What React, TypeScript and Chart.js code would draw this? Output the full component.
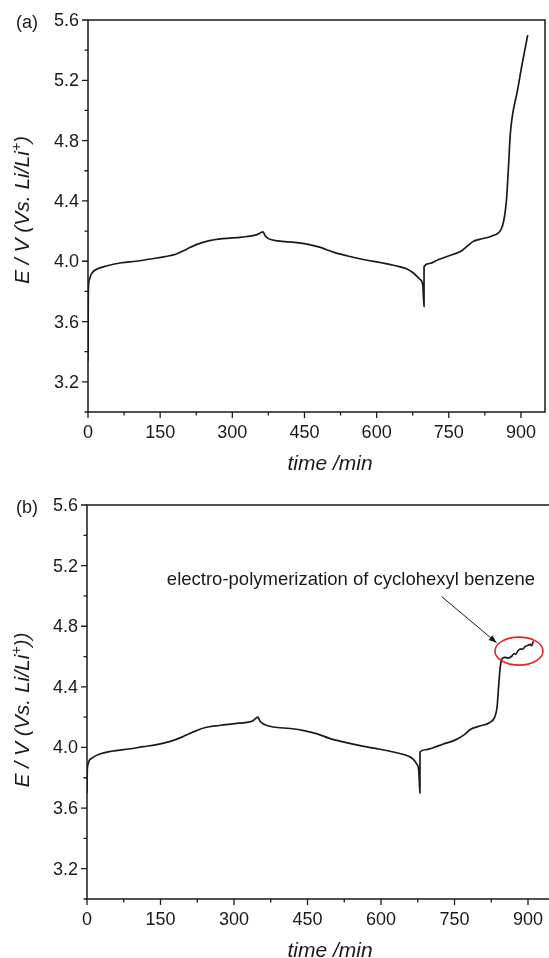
import { useEffect, useRef } from "react";
import { Chart, registerables } from "chart.js";

Chart.register(...registerables);

// ---------- data ----------
const timeA = [0, 0.5, 1, 3, 8, 20, 40, 70, 100, 130, 160, 185, 205, 225, 250, 280, 320, 350, 364, 368, 375, 395, 430, 460, 485, 510, 540, 575, 610, 640, 662, 675, 690, 696, 698.5, 698.6, 710, 728, 745, 777, 800, 814, 842, 860, 866, 870, 874, 878, 883, 892, 902, 914];
const voltA = [3.34, 3.75, 3.83, 3.88, 3.92, 3.95, 3.97, 3.99, 4.0, 4.015, 4.03, 4.05, 4.08, 4.11, 4.135, 4.15, 4.16, 4.175, 4.195, 4.17, 4.15, 4.135, 4.125, 4.11, 4.09, 4.06, 4.035, 4.01, 3.99, 3.97, 3.95, 3.925, 3.88, 3.84, 3.70, 3.965, 3.985, 4.01, 4.03, 4.07, 4.13, 4.145, 4.17, 4.22, 4.3, 4.41, 4.62, 4.85, 4.98, 5.12, 5.3, 5.5];

const timeB = [0, 0.5, 1.5, 4, 10, 25, 50, 85, 115, 145, 170, 195, 215, 240, 270, 310, 338, 349, 353, 360, 380, 415, 445, 470, 495, 525, 560, 595, 625, 650, 665, 673, 677, 679.5, 679.6, 690, 708, 725, 752, 768, 783, 800, 822, 832, 837, 840, 843, 846, 852, 860, 866, 872, 875, 880, 886, 889, 894, 900, 904, 907, 911];
const voltB = [3.70, 3.84, 3.88, 3.91, 3.93, 3.955, 3.975, 3.99, 4.005, 4.02, 4.04, 4.07, 4.1, 4.13, 4.145, 4.16, 4.175, 4.2, 4.175, 4.155, 4.135, 4.125, 4.11, 4.09, 4.06, 4.035, 4.01, 3.99, 3.97, 3.95, 3.925, 3.89, 3.85, 3.70, 3.97, 3.985, 4.0, 4.02, 4.05, 4.08, 4.12, 4.14, 4.165, 4.2, 4.27, 4.4, 4.52, 4.58, 4.595, 4.59, 4.6, 4.62, 4.615, 4.64, 4.65, 4.648, 4.665, 4.675, 4.68, 4.672, 4.7];

const xMajorTicks = [0, 150, 300, 450, 600, 750, 900];
const xMinorTicks = [75, 225, 375, 525, 675, 825];
const yMajorTicks = [3.2, 3.6, 4.0, 4.4, 4.8, 5.2, 5.6];
const yMinorTicks = [3.0, 3.4, 3.8, 4.2, 4.6, 5.0, 5.4];

const xTitle = "time /min";
const yTitleMain = "E / V (Vs. Li/Li";
const yTitleSup = "+";
const annotationText = "electro-polymerization of cyclohexyl benzene";

// ---------- style ----------
const FONT = "'Liberation Sans', Arial, Helvetica, sans-serif";
const INK = "#1a1a1a";
const RED = "#e5262b";

type PanelCfg = {
  label: string;
  yTitleEnd: string;
  times: number[];
  volts: number[];
  width: number;
  height: number;
  top: number;
  padTop: number;
  padRight: number;
  yAxisWidth: number;
  xAxisHeight: number;
  yTitleCenterShift: number;
  annotate: boolean;
};

const panels: PanelCfg[] = [
  {
    label: "(a)", yTitleEnd: ")", times: timeA, volts: voltA,
    width: 549, height: 480, top: 0, padTop: 20, padRight: 4,
    yAxisWidth: 88, xAxisHeight: 68, yTitleCenterShift: -6, annotate: false,
  },
  {
    label: "(b)", yTitleEnd: "))", times: timeB, volts: voltB,
    width: 560, height: 478, top: 480, padTop: 25, padRight: 7.5,
    yAxisWidth: 87, xAxisHeight: 59, yTitleCenterShift: 8, annotate: true,
  },
];

function makeDecorPlugin(cfg: PanelCfg) {
  return {
    id: "decor" + cfg.label,
    afterDraw(chart: any) {
      const { ctx, chartArea: a, scales } = chart;
      const xs = scales.x;
      const ys = scales.y;
      ctx.save();
      // frame
      ctx.strokeStyle = INK;
      ctx.lineWidth = 1.5;
      ctx.strokeRect(a.left, a.top, a.right - a.left, a.bottom - a.top);
      // ticks
      ctx.lineWidth = 1.3;
      ctx.beginPath();
      for (const v of yMajorTicks) {
        const y = ys.getPixelForValue(v);
        ctx.moveTo(a.left - 6, y);
        ctx.lineTo(a.left, y);
      }
      for (const v of yMinorTicks) {
        const y = ys.getPixelForValue(v);
        ctx.moveTo(a.left - 3.5, y);
        ctx.lineTo(a.left, y);
      }
      for (const v of xMajorTicks) {
        const x = xs.getPixelForValue(v);
        ctx.moveTo(x, a.bottom);
        ctx.lineTo(x, a.bottom + 6);
      }
      for (const v of xMinorTicks) {
        const x = xs.getPixelForValue(v);
        ctx.moveTo(x, a.bottom);
        ctx.lineTo(x, a.bottom + 3.5);
      }
      ctx.stroke();
      // tick labels
      ctx.fillStyle = INK;
      ctx.font = `18px ${FONT}`;
      ctx.textAlign = "right";
      ctx.textBaseline = "middle";
      for (const v of yMajorTicks) {
        ctx.fillText(v.toFixed(1), a.left - 9, ys.getPixelForValue(v) + 1);
      }
      ctx.textAlign = "center";
      for (const v of xMajorTicks) {
        ctx.fillText(String(v), xs.getPixelForValue(v), a.bottom + 21);
      }
      // x title
      ctx.font = `italic 21px ${FONT}`;
      ctx.textBaseline = "alphabetic";
      ctx.fillText(xTitle, 330, a.bottom + 58);
      // panel label
      ctx.font = `18px ${FONT}`;
      ctx.textAlign = "left";
      ctx.textBaseline = "middle";
      ctx.fillText(cfg.label, 16, a.top + 3);
      // y title (rotated, with superscript)
      const mainFont = `italic 21px ${FONT}`;
      const supFont = `italic 14px ${FONT}`;
      ctx.font = mainFont;
      const w1 = ctx.measureText(yTitleMain).width;
      const w3 = ctx.measureText(cfg.yTitleEnd).width;
      ctx.font = supFont;
      const w2 = ctx.measureText(yTitleSup).width;
      const total = w1 + w2 + w3;
      const cy = (a.top + a.bottom) / 2 + cfg.yTitleCenterShift;
      ctx.translate(29, cy);
      ctx.rotate(-Math.PI / 2);
      ctx.textAlign = "left";
      ctx.textBaseline = "alphabetic";
      let px = -total / 2;
      ctx.font = mainFont;
      ctx.fillText(yTitleMain, px, 0);
      px += w1;
      ctx.font = supFont;
      ctx.fillText(yTitleSup, px, -8);
      px += w2;
      ctx.font = mainFont;
      ctx.fillText(cfg.yTitleEnd, px, 0);
      ctx.restore();

      if (cfg.annotate) {
        ctx.save();
        ctx.fillStyle = INK;
        ctx.font = `18.5px ${FONT}`;
        ctx.textAlign = "left";
        ctx.textBaseline = "middle";
        ctx.fillText(annotationText, xs.getPixelForValue(163), ys.getPixelForValue(5.105));
        // arrow
        const x0 = xs.getPixelForValue(724), y0 = ys.getPixelForValue(4.995);
        const x1 = xs.getPixelForValue(836), y1 = ys.getPixelForValue(4.691);
        ctx.strokeStyle = INK;
        ctx.lineWidth = 1;
        ctx.beginPath();
        ctx.moveTo(x0, y0);
        ctx.lineTo(x1, y1);
        ctx.stroke();
        const ang = Math.atan2(y1 - y0, x1 - x0);
        const L = 8, W = 3;
        ctx.beginPath();
        ctx.moveTo(x1, y1);
        ctx.lineTo(x1 - L * Math.cos(ang) + W * Math.sin(ang), y1 - L * Math.sin(ang) - W * Math.cos(ang));
        ctx.lineTo(x1 - L * Math.cos(ang) - W * Math.sin(ang), y1 - L * Math.sin(ang) + W * Math.cos(ang));
        ctx.closePath();
        ctx.fill();
        // ellipse
        ctx.strokeStyle = RED;
        ctx.lineWidth = 1.6;
        ctx.beginPath();
        ctx.ellipse(xs.getPixelForValue(881.6), ys.getPixelForValue(4.636), 24, 14, 0, 0, Math.PI * 2);
        ctx.stroke();
        ctx.restore();
      }
    },
  };
}

function Panel({ cfg }: { cfg: PanelCfg }) {
  const ref = useRef<HTMLCanvasElement | null>(null);
  useEffect(() => {
    const canvas = ref.current;
    if (!canvas) return;
    const points = cfg.times.map((t, i) => ({ x: t, y: cfg.volts[i] }));
    const chart = new Chart(canvas, {
      type: "line",
      data: {
        datasets: [
          {
            data: points,
            borderColor: INK,
            borderWidth: 1.7,
            pointRadius: 0,
            cubicInterpolationMode: "monotone",
            fill: false,
          },
        ],
      },
      options: {
        animation: false,
        responsive: false,
        devicePixelRatio: 1,
        events: [],
        layout: { padding: { top: cfg.padTop, right: cfg.padRight, left: 0, bottom: 0 } },
        plugins: { legend: { display: false }, tooltip: { enabled: false } },
        scales: {
          x: {
            type: "linear",
            min: 0,
            max: 950,
            grid: { display: false, drawTicks: false },
            border: { display: false },
            ticks: { display: false },
            afterFit: (s: any) => { s.height = cfg.xAxisHeight; },
          },
          y: {
            type: "linear",
            min: 3.0,
            max: 5.6,
            grid: { display: false, drawTicks: false },
            border: { display: false },
            ticks: { display: false },
            afterFit: (s: any) => { s.width = cfg.yAxisWidth; },
          },
        },
      } as any,
      plugins: [makeDecorPlugin(cfg)],
    });
    return () => chart.destroy();
  }, [cfg]);
  return (
    <canvas
      ref={ref}
      width={cfg.width}
      height={cfg.height}
      style={{ position: "absolute", left: 0, top: cfg.top, width: cfg.width, height: cfg.height, display: "block" }}
    />
  );
}

export default function App() {
  return (
    <div
      style={{
        position: "fixed",
        left: 0,
        top: 0,
        width: 549,
        height: 958,
        overflow: "hidden",
        background: "#fff",
      }}
    >
      {panels.map((p) => (
        <Panel key={p.label} cfg={p} />
      ))}
    </div>
  );
}
